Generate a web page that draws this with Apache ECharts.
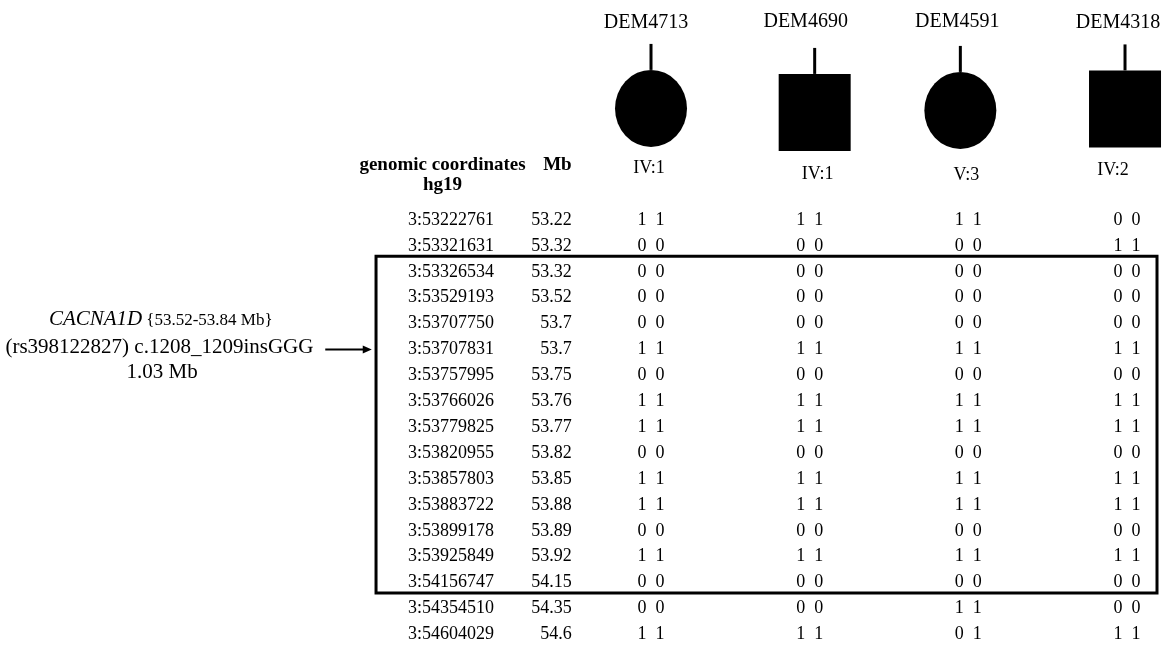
<!DOCTYPE html>
<html><head><meta charset="utf-8">
<script src="https://cdn.jsdelivr.net/npm/echarts@6/dist/echarts.min.js"></script>
<style>html,body{margin:0;padding:0;background:#fff}#c{width:1168px;height:645px}</style>
</head><body><div id="c"></div>
<script>
// ---------- data ----------
const coordinates = ['3:53222761','3:53321631','3:53326534','3:53529193','3:53707750','3:53707831','3:53757995','3:53766026','3:53779825','3:53820955','3:53857803','3:53883722','3:53899178','3:53925849','3:54156747','3:54354510','3:54604029'];
const megabases = [53.22, 53.32, 53.32, 53.52, 53.7, 53.7, 53.75, 53.76, 53.77, 53.82, 53.85, 53.88, 53.89, 53.92, 54.15, 54.35, 54.6];
const patients = ['DEM4713', 'DEM4690', 'DEM4591', 'DEM4318'];
const pedigreeIds = ['IV:1', 'IV:1', 'V:3', 'IV:2'];
const sexes = ['F', 'M', 'F', 'M'];
const genoDEM4713 = ['1 1','0 0','0 0','0 0','0 0','1 1','0 0','1 1','1 1','0 0','1 1','1 1','0 0','1 1','0 0','0 0','1 1'];
const genoDEM4690 = ['1 1','0 0','0 0','0 0','0 0','1 1','0 0','1 1','1 1','0 0','1 1','1 1','0 0','1 1','0 0','0 0','1 1'];
const genoDEM4591 = ['1 1','0 0','0 0','0 0','0 0','1 1','0 0','1 1','1 1','0 0','1 1','1 1','0 0','1 1','0 0','1 1','0 1'];
const genoDEM4318 = ['0 0','1 1','0 0','0 0','0 0','1 1','0 0','1 1','1 1','0 0','1 1','1 1','0 0','1 1','0 0','0 0','1 1'];
const genotypes = [genoDEM4713, genoDEM4690, genoDEM4591, genoDEM4318];
const haplotypeRows = [2, 14];
const variantRow = 5;
const geneLabel = 'CACNA1D';
const geneRange = '{53.52-53.84 Mb}';
const variantLabel = '(rs398122827) c.1208_1209insGGG';
const intervalLabel = '1.03 Mb';
const headerCoord = ['genomic coordinates', 'hg19'];
const headerMb = 'Mb';

// ---------- layout (pixel nudges of the hand-drawn header, per column) ----------
const LAYOUT = {
  symbolDx: [0, 5, -8, -2], symbolDy: [-1.5, 2.5, 0.5, -1],
  nameDx: [-5, -4, -11, -9], nameDy: [0.7, -0.3, -0.3, 0.7],
  idDx: [-2, 8, -2, -14], idDy: [-1, 5, 6, 1]
};

// ---------- build ----------
const FONT = '"Liberation Serif", "Times New Roman", serif';
const cells = [];
genotypes.forEach((g, j) => g.forEach((v, i) => cells.push([j, i])));

const chart = echarts.init(document.getElementById('c'), null, {renderer: 'canvas'});
function txt(x, y, text, size, align, extra) {
  return {type: 'text', x: x, y: y, style: Object.assign({
    text: text, fill: '#000', font: (extra && extra.font) || (size + 'px ' + FONT),
    align: align || 'center', verticalAlign: 'middle'
  }, extra && extra.style || {})};
}
const option = {
  animation: false,
  backgroundColor: '#fff',
  grid: {left: 0, right: 0, top: 0, bottom: 0, containLabel: false},
  xAxis: {type: 'value', min: -4.1029, max: 3.2583, show: false, splitLine: {show: false}},
  yAxis: {type: 'value', min: -8.494, max: 16.41, inverse: true, show: false, splitLine: {show: false}},
  series: [
    { // coordinate + Mb columns
      type: 'custom', name: 'markers',
      data: coordinates.map((c, i) => [i]),
      renderItem: function (params, api) {
        const i = api.value(0);
        const p1 = api.coord([-0.99, i]);
        const p2 = api.coord([-0.5, i]);
        return {type: 'group', children: [
          txt(p1[0], p1[1], coordinates[params.dataIndex], 18, 'right'),
          txt(p2[0], p2[1], String(megabases[params.dataIndex]), 18, 'right')
        ]};
      }
    },
    { // header
      type: 'custom', name: 'header',
      data: [[0]],
      renderItem: function (params, api) {
        const a = api.coord([-1.314, -2.12]);
        const b = api.coord([-1.314, -1.35]);
        const m = api.coord([-0.5, -2.12]);
        const bold = 'bold 19px ' + FONT;
        return {type: 'group', children: [
          txt(a[0], a[1], headerCoord[0], 19, 'center', {font: bold}),
          txt(b[0], b[1], headerCoord[1], 19, 'center', {font: bold}),
          txt(m[0], m[1], headerMb, 19, 'right', {font: bold})
        ]};
      }
    },
    { // genotypes
      type: 'custom', name: 'genotypes',
      data: cells,
      renderItem: function (params, api) {
        const j = api.value(0), i = api.value(1);
        const p = api.coord([j, i]);
        return txt(p[0], p[1], genotypes[j][i].replace(' ', '  '), 18, 'center');
      }
    },
    { // pedigree symbols
      type: 'custom', name: 'pedigree',
      data: patients.map((p, j) => [j]),
      renderItem: function (params, api) {
        const j = api.value(0);
        const c0 = api.coord([j, -4.25]);
        const c = [c0[0] + LAYOUT.symbolDx[j], c0[1] + LAYOUT.symbolDy[j]];
        const nm = api.coord([j, -7.64]);
        const id = api.coord([j, -1.97]);
        const w = 72, h = 77;
        const top = c[1] - h / 2;
        const shape = sexes[j] === 'F'
          ? {type: 'circle', x: c[0], y: c[1], scaleY: h / w, shape: {cx: 0, cy: 0, r: w / 2}, style: {fill: '#000'}}
          : {type: 'rect', shape: {x: c[0] - w / 2, y: top, width: w, height: h}, style: {fill: '#000'}};
        return {type: 'group', children: [
          shape,
          {type: 'line', shape: {x1: c[0], y1: top, x2: c[0], y2: top - 26}, style: {stroke: '#000', lineWidth: 3}},
          txt(nm[0] + LAYOUT.nameDx[j], nm[1] + LAYOUT.nameDy[j], patients[j], 20, 'center'),
          txt(id[0] + LAYOUT.idDx[j], id[1] + LAYOUT.idDy[j], pedigreeIds[j], 18, 'center')
        ]};
      }
    },
    { // haplotype box
      type: 'custom', name: 'box',
      data: [haplotypeRows],
      renderItem: function (params, api) {
        const a = api.coord([-1.733, api.value(0) - 0.6]);
        const b = api.coord([3.189, api.value(1) + 0.4]);
        return {type: 'rect', shape: {x: a[0], y: a[1], width: b[0] - a[0], height: b[1] - a[1]},
          style: {fill: 'none', stroke: '#000', lineWidth: 3}};
      }
    },
    { // annotation + arrow
      type: 'custom', name: 'annotation',
      data: [[variantRow]],
      renderItem: function (params, api) {
        const r = api.value(0);
        const l1 = api.coord([-3.2, r - 1.14]);
        const l2 = api.coord([-3.098, r - 0.06]);
        const l3 = api.coord([-3.081, r + 0.87]);
        const a0 = api.coord([-2.053, r]);
        const a1 = api.coord([-1.76, r]);
        return {type: 'group', children: [
          txt(l1[0] - 1, l1[1], geneLabel, 21, 'right', {font: 'italic 21px ' + FONT}),
          txt(l1[0] + 3, l1[1] + 1, geneRange, 17, 'left'),
          txt(l2[0], l2[1], variantLabel, 21, 'center'),
          txt(l3[0], l3[1], intervalLabel, 21, 'center'),
          {type: 'line', shape: {x1: a0[0], y1: a0[1], x2: a1[0] - 6, y2: a1[1]}, style: {stroke: '#000', lineWidth: 2}},
          {type: 'polygon', shape: {points: [[a1[0], a1[1]], [a1[0] - 9, a1[1] - 4], [a1[0] - 9, a1[1] + 4]]}, style: {fill: '#000'}}
        ]};
      }
    }
  ]
};
chart.setOption(option);
</script></body></html>
